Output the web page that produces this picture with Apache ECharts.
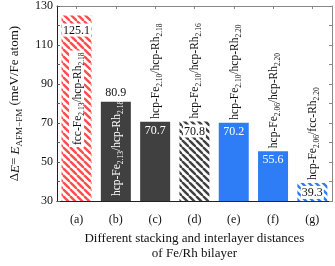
<!DOCTYPE html>
<html><head><meta charset="utf-8">
<script src="https://cdn.jsdelivr.net/npm/echarts@6/dist/echarts.min.js"></script>
<style>html,body{margin:0;padding:0;background:#fff}#c{width:335px;height:266px}</style>
</head><body><div id="c"></div>
<script>
// ---- data ----
const categories = ['(a)', '(b)', '(c)', '(d)', '(e)', '(f)', '(g)'];
const values = [125.1, 80.9, 70.7, 70.8, 70.2, 55.6, 39.3];
const stackNames = [
  ['fcc-Fe', '2.13', '/hcp-Rh', '2.18'],
  ['hcp-Fe', '2.13', '/hcp-Rh', '2.18'],
  ['hcp-Fe', '2.10', '/hcp-Rh', '2.18'],
  ['hcp-Fe', '2.10', '/hcp-Rh', '2.16'],
  ['hcp-Fe', '2.10', '/hcp-Rh', '2.20'],
  ['hcp-Fe', '2.06', '/hcp-Rh', '2.20'],
  ['hcp-Fe', '2.06', '/fcc-Rh', '2.20']
];
const yTicks = [30, 50, 70, 90, 110, 130];

// ---- styles ----
const FONT = '"Liberation Serif", "DejaVu Serif", serif';
const RED = '#ff4d4d', GRAY = '#404040', BLUE = '#2e7df6';
function hatch(color) {
  const s = 7, c = document.createElement('canvas');
  c.width = s; c.height = s;
  const g = c.getContext('2d');
  g.fillStyle = '#fff'; g.fillRect(0, 0, s, s);
  g.strokeStyle = color; g.lineWidth = 2.4;
  for (let k = -1; k <= 1; k++) { g.beginPath(); g.moveTo(k * s, 0); g.lineTo(k * s + s, s); g.stroke(); }
  return { image: c, repeat: 'repeat' };
}
const barFill = [hatch(RED), GRAY, GRAY, hatch(GRAY), BLUE, BLUE, hatch(BLUE)];
const hatched = [true, false, false, true, false, false, true];
const valuePos = ['insideTop', 'top', 'insideTop', 'insideTop', 'insideTop', 'insideTop', 'insideTop'];
const valueDist = [8, 3, 3, 3, 3, 3, 3];
const namePos = ['insideBottom', 'insideBottom', 'top', 'top', 'top', 'top', 'top'];
const nameDist = [54, 5, 3, 3, 3, 3, 3];
const nameColor = ['#111', '#fff', '#111', '#111', '#111', '#111', '#111'];

const richSub = {
  m: { fontFamily: FONT, fontSize: 11.5, lineHeight: 14, verticalAlign: 'bottom' },
  s: { fontFamily: FONT, fontSize: 7.5, lineHeight: 10, verticalAlign: 'bottom', padding: [0, 0, -2, 0] }
};

const valueData = values.map((v, i) => ({
  value: v,
  itemStyle: { color: barFill[i] },
  label: {
    show: true, position: valuePos[i], distance: valueDist[i],
    color: hatched[i] ? '#111' : (valuePos[i] === 'top' ? '#111' : '#fff'),
    backgroundColor: hatched[i] ? '#fff' : 'transparent',
    padding: hatched[i] ? [1, 1, 0, 1] : 0,
    fontFamily: FONT, fontSize: 12
  }
}));

const nameData = values.map((v, i) => {
  const rich = JSON.parse(JSON.stringify(richSub));
  rich.m.color = nameColor[i]; rich.s.color = nameColor[i];
  return {
    value: v,
    label: {
      show: true, position: namePos[i], distance: nameDist[i], rotate: 90,
      align: 'left', verticalAlign: 'middle',
      backgroundColor: i === 0 ? '#fff' : 'transparent', padding: i === 0 ? [1, 2, 0, 2] : 0,
      formatter: () => { const n = stackNames[i]; return '{m|' + n[0] + '}{s|' + n[1] + '}{m|' + n[2] + '}{s|' + n[3] + '}'; },
      rich: rich
    }
  };
});

const chart = echarts.init(document.getElementById('c'), null, { renderer: 'canvas' });
chart.setOption({
  animation: false,
  grid: { left: 43, right: 3, top: 3, bottom: 56, containLabel: false },
  xAxis: [{
    type: 'category', data: categories, position: 'bottom',
    axisLine: { lineStyle: { color: '#222', width: 1 } },
    axisTick: { show: false },
    axisLabel: { fontFamily: FONT, fontSize: 12, color: '#111', margin: 13 },
    name: 'Different stacking and interlayer distances\nof Fe/Rh bilayer',
    nameLocation: 'middle', nameGap: 27,
    nameTextStyle: { fontFamily: FONT, fontSize: 13, color: '#111', lineHeight: 15, align: 'center' }
  }, {
    type: 'category', data: categories, position: 'top',
    axisLine: { lineStyle: { color: '#888', width: 1 } },
    axisTick: { show: true, inside: true, length: 3, alignWithLabel: true, lineStyle: { color: '#888' } },
    axisLabel: { show: false }
  }],
  yAxis: [{
    type: 'value', min: 30, max: 130, interval: 20, position: 'left',
    axisLine: { show: true, lineStyle: { color: '#222' } },
    axisTick: { show: true, inside: true, length: 3, lineStyle: { color: '#555' } },
    minorTick: { show: true, splitNumber: 2, length: 3, lineStyle: { color: '#555' } },
    splitLine: { show: false },
    axisLabel: { fontFamily: FONT, fontSize: 12, color: '#111', margin: 4,
      formatter: v => yTicks.includes(v) ? String(v) : '' },
    name: '\u0394{i|E}= {i|E}{s|AFM\u2212FM} (meV/Fe atom)',
    nameLocation: 'middle', nameGap: 27, nameRotate: 90,
    nameTextStyle: { fontFamily: FONT, fontSize: 13, color: '#111',
      rich: { i: { fontFamily: FONT, fontSize: 13, fontStyle: 'italic', color: '#111', verticalAlign: 'bottom', lineHeight: 15 },
              s: { fontFamily: FONT, fontSize: 9, color: '#111', verticalAlign: 'bottom', lineHeight: 11, padding: [0, 0, -2, 0] } } }
  }, {
    type: 'value', min: 30, max: 130, interval: 20, position: 'right',
    axisLine: { show: true, lineStyle: { color: '#888' } },
    axisTick: { show: true, inside: true, length: 3, lineStyle: { color: '#888' } },
    minorTick: { show: true, splitNumber: 2, length: 3, lineStyle: { color: '#888' } },
    splitLine: { show: false }, axisLabel: { show: false }
  }],
  series: [{
    type: 'bar', data: valueData, barWidth: 30, z: 2
  }, {
    type: 'bar', data: nameData, barWidth: 30, barGap: '-100%', z: 3, silent: true,
    itemStyle: { color: 'transparent' }
  }]
});
</script></body></html>
